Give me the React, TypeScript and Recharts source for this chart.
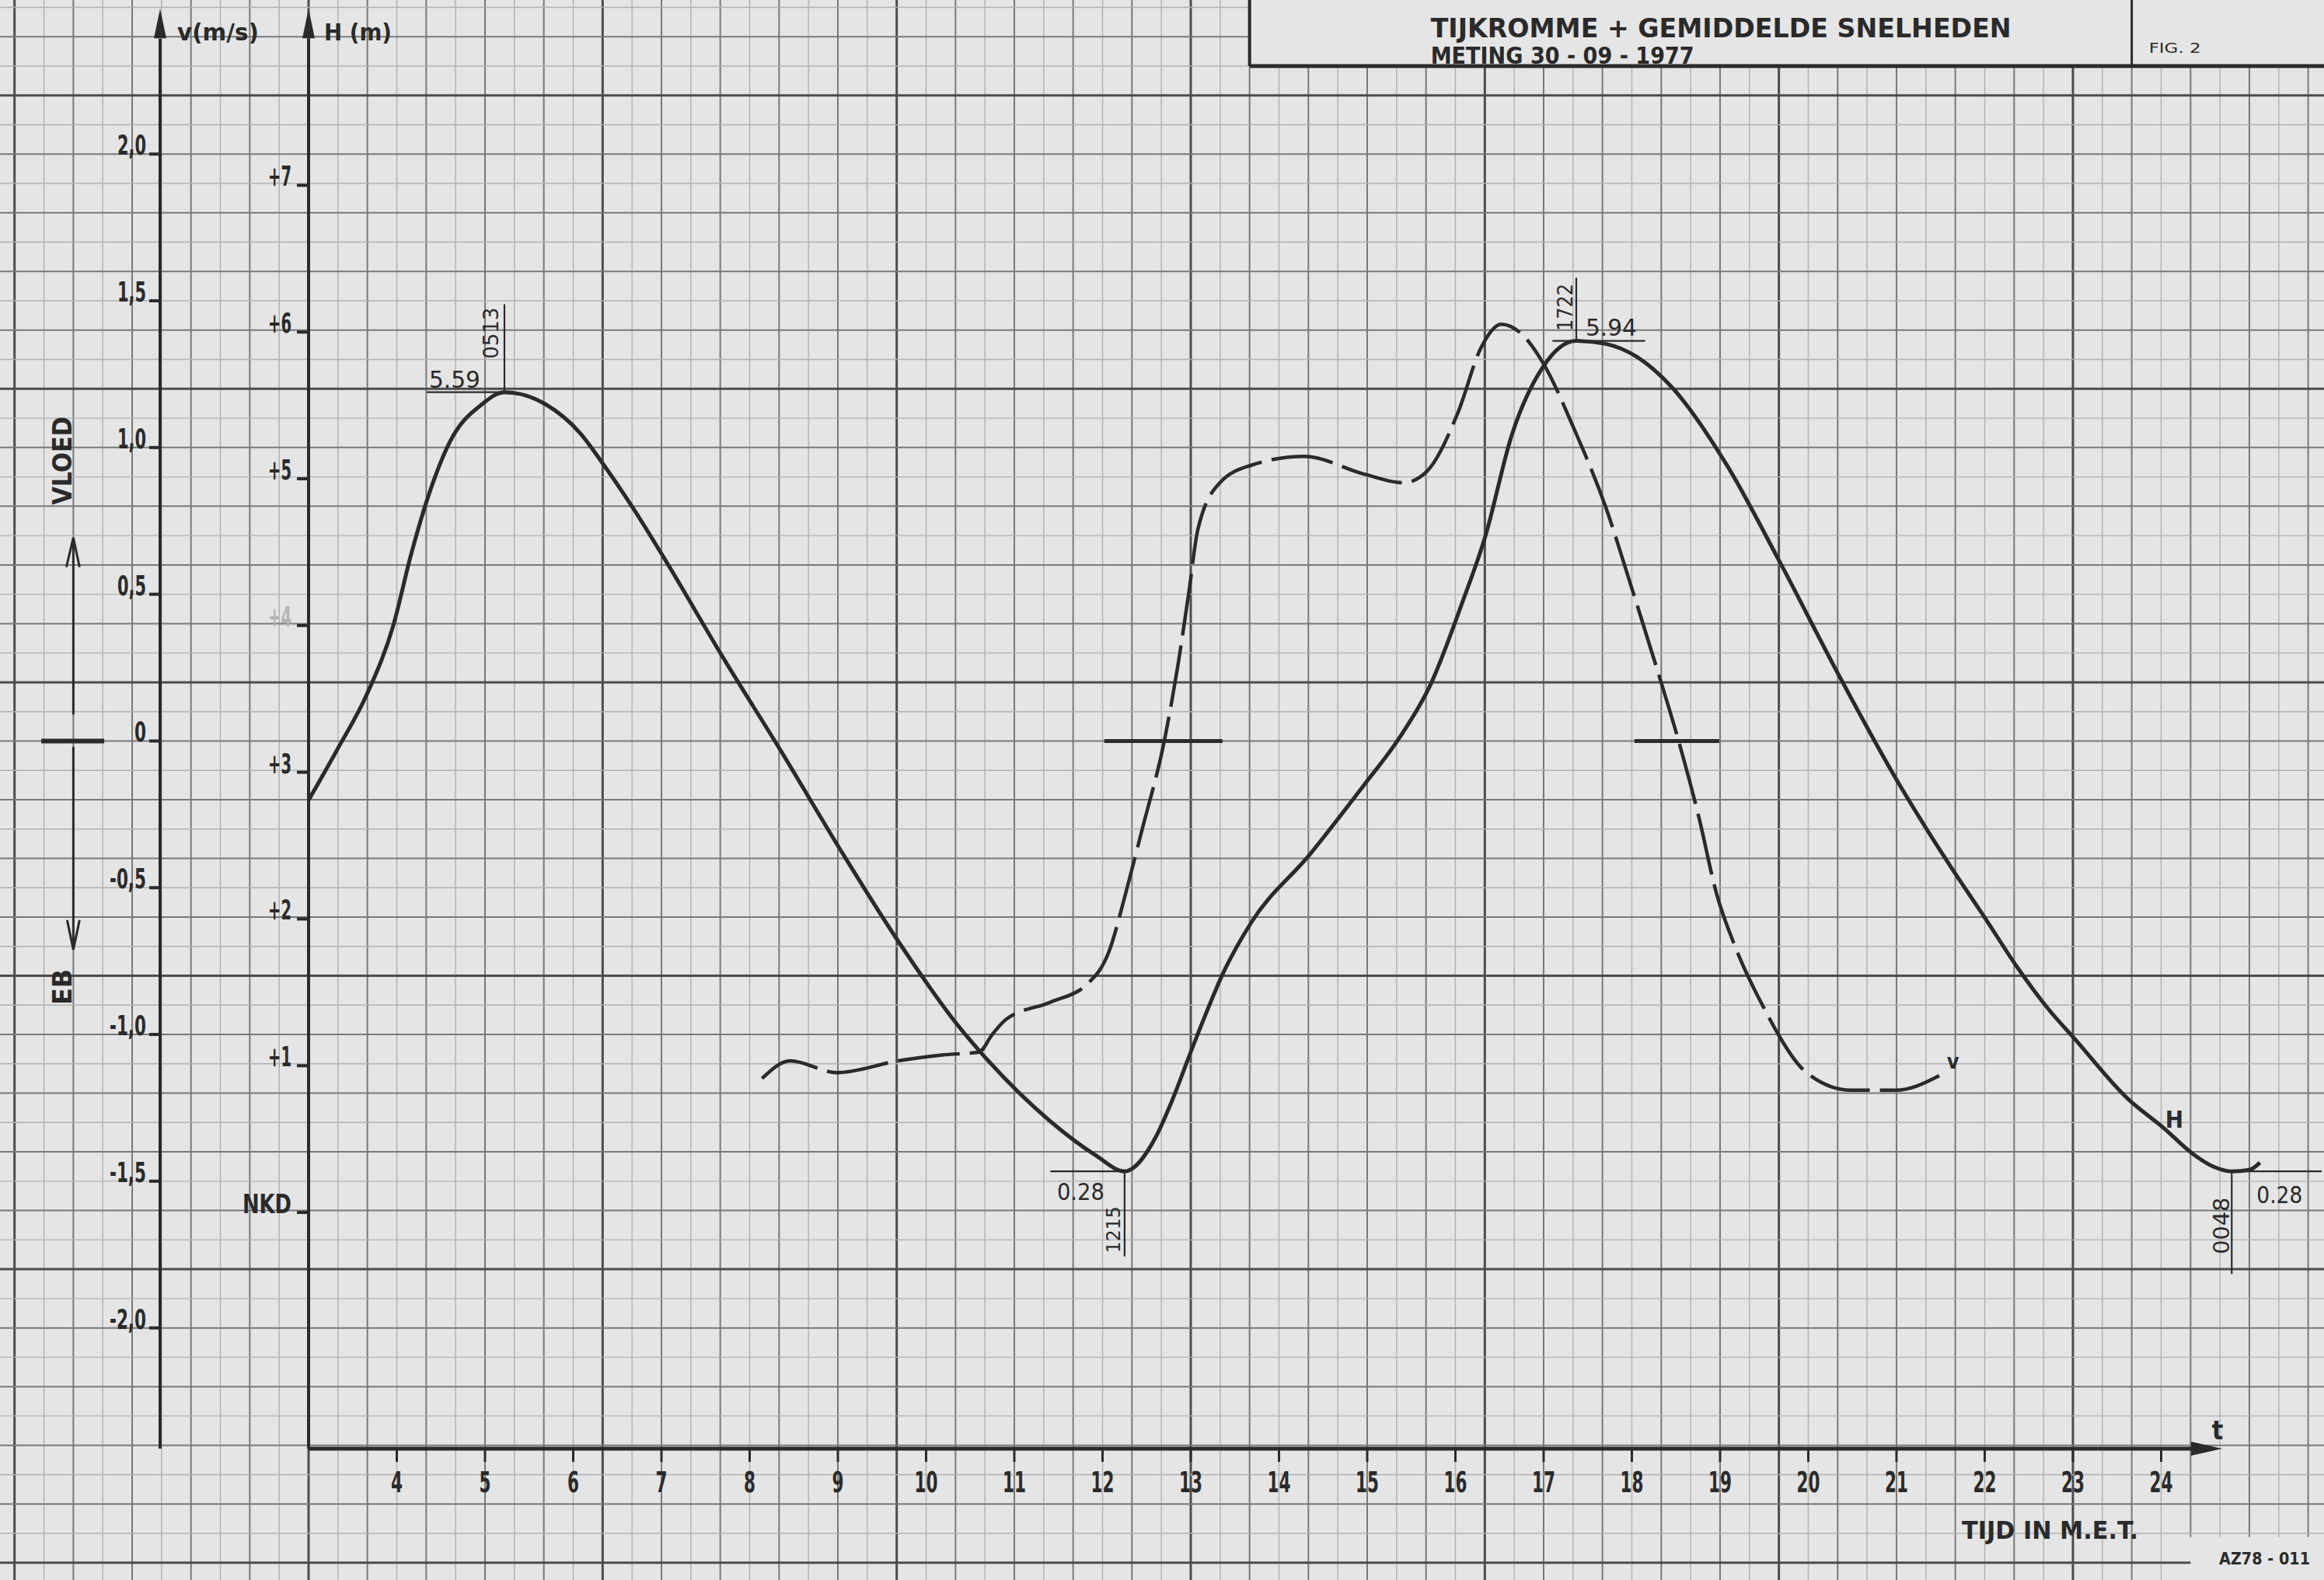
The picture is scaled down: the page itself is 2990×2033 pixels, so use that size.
import { LineChart, Line, XAxis, YAxis, ReferenceLine, ReferenceDot } from "recharts";

// tide curve H (m above NKD), hours M.E.T.
const hTimes = [3.0, 3.33, 3.66, 3.96, 4.16, 4.34, 4.6, 4.97, 5.22, 5.68, 6.08, 6.34, 6.7, 7.04, 7.7, 8.37, 9.03, 9.66, 10.38, 10.65, 11.41, 11.92, 12.25, 12.6, 12.78, 13.03, 13.39, 13.69, 14.35, 14.96, 15.36, 15.72, 16.08, 16.34, 16.64, 16.99, 17.37, 17.7, 18.06, 18.46, 19.07, 19.68, 20.33, 20.99, 21.61, 22.0, 22.37, 22.73, 23.01, 23.63, 24.02, 24.38, 24.6, 24.8, 25.0, 25.12];
const hLevels = [2.81, 3.16, 3.53, 4.0, 4.48, 4.85, 5.25, 5.51, 5.59, 5.51, 5.31, 5.1, 4.78, 4.45, 3.78, 3.13, 2.47, 1.87, 1.26, 1.07, 0.62, 0.39, 0.28, 0.51, 0.75, 1.14, 1.66, 1.98, 2.44, 2.91, 3.23, 3.6, 4.16, 4.61, 5.3, 5.76, 5.94, 5.92, 5.83, 5.62, 5.1, 4.43, 3.68, 2.96, 2.36, 2.01, 1.67, 1.38, 1.19, 0.77, 0.58, 0.39, 0.31, 0.28, 0.29, 0.34];

// mean velocity v (m/s), flood positive
const vTimes = [8.14, 8.46, 8.99, 9.68, 10.18, 10.6, 10.75, 10.9, 11.41, 11.82, 12.07, 12.27, 12.45, 12.7, 12.85, 12.98, 13.08, 13.33, 13.69, 14.29, 14.96, 15.41, 15.68, 16.03, 16.29, 16.52, 16.74, 16.99, 17.35, 17.7, 18.0, 18.26, 18.53, 18.76, 18.96, 19.17, 19.48, 19.98, 20.48, 20.99, 21.55];
const vSpeeds = [-1.15, -1.09, -1.13, -1.09, -1.07, -1.06, -1.0, -0.95, -0.89, -0.83, -0.72, -0.51, -0.3, 0.0, 0.25, 0.51, 0.72, 0.88, 0.94, 0.97, 0.91, 0.88, 0.92, 1.12, 1.34, 1.42, 1.39, 1.29, 1.06, 0.8, 0.52, 0.27, 0.0, -0.26, -0.52, -0.7, -0.9, -1.13, -1.19, -1.19, -1.13];

const hourTicks = [4, 5, 6, 7, 8, 9, 10, 11, 12, 13, 14, 15, 16, 17, 18, 19, 20, 21, 22, 23, 24];
const vTicks = [2, 1.5, 1, 0.5, 0, -0.5, -1, -1.5, -2];
const vTickLabels = ["2,0", "1,5", "1,0", "0,5", "0", "-0,5", "-1,0", "-1,5", "-2,0"];
const hTicks = [7, 6, 5, 4, 3, 2, 1, 0];
const hTickLabels = ["+7", "+6", "+5", "+4", "+3", "+2", "+1", "NKD"];

// high / low water marked on the curve
const extremeTimes = [5.22, 12.25, 17.37, 24.8];
const extremeLevels = [5.59, 0.28, 5.94, 0.28];
const extremeValueLabels = ["5.59", "0.28", "5.94", "0.28"];
const extremeClock = ["0513", "1215", "1722", "0048"];

const hData = hTimes.map((t, i) => ({ t, h: hLevels[i] }));
const vData = vTimes.map((t, i) => ({ t, v: vSpeeds[i] }));

const W = 2990;
const HT = 2033;
const FONT = "'DejaVu Sans Condensed', 'Liberation Sans Narrow', 'DejaVu Sans', sans-serif";
const INK = "#2a2a2a";
const PAPER = "#e5e5e5";

// the whole sheet is the plot area
const X_DOMAIN = [-0.498, 25.846];
const H_DOMAIN = [-2.505, 8.263];
const V_DOMAIN = [-2.859, 2.525];

const V_AXIS_T = 1.317;
const H_AXIS_T = 3;
const BASE_H = -1.61;
const AXIS_TOP_H = 8.0;
const TIP_H = 8.204;
const T_ARROW_BASE = 24.36;
const T_ARROW_TIP = 24.692;

const BOX_T = 3 + 32 / 3;
const FIG_T = 3 + 62 / 3;
const BOX_V = 2.3;
const CODE_T = 3 + 64 / 3;
const CODE_V = -2.713;
const SIDE_T = 3 - 8 / 3;

const gridCols = Array.from({ length: 79 }, (_, i) => i - 10);
const gridRows = Array.from({ length: 54 }, (_, i) => 25 - i);

const tone = (n: number): [string, number] =>
  n % 10 === 0 ? ["#4c4c4c", 3] : n % 2 === 0 ? ["#787878", 2] : ["#b0b0b0", 1.4];

// stencil-ish widths for tick numerals
const glyphW: Record<string, number> = { ",": 7, ".": 7, "-": 10, "+": 15, N: 22, K: 20, D: 21 };
const numLen = (s: string) => s.split("").reduce((a, c) => a + (glyphW[c] ?? 15), 0);

type TextOpts = {
  dx?: number;
  dy?: number;
  size?: number;
  anchor?: string;
  len?: number;
  rotate?: boolean;
  color?: string;
  bold?: boolean;
};

function label(cx: number, cy: number, text: string, o: TextOpts) {
  const x = cx + (o.dx ?? 0);
  const y = cy + (o.dy ?? 0);
  return (
    <text
      x={x}
      y={y}
      fontFamily={FONT}
      fontSize={o.size ?? 28}
      fontWeight={o.bold ? "bold" : "normal"}
      fill={o.color ?? INK}
      textAnchor={o.anchor ?? "start"}
      textLength={o.len}
      lengthAdjust={o.len ? "spacingAndGlyphs" : undefined}
      transform={o.rotate ? `rotate(-90 ${x} ${y})` : undefined}
    >
      {text}
    </text>
  );
}

const mark = (key: string, x: number, y: number, axis: string, draw: (cx: number, cy: number) => any) => (
  <ReferenceDot key={key} x={x} y={y} yAxisId={axis} r={1} ifOverflow="visible" shape={(p: any) => draw(p.cx, p.cy)} />
);

const seg = (key: string, x1: number, y1: number, x2: number, y2: number, axis: string, stroke: string, width: number) => (
  <ReferenceLine
    key={key}
    yAxisId={axis}
    segment={[{ x: x1, y: y1 }, { x: x2, y: y2 }]}
    stroke={stroke}
    strokeWidth={width}
    ifOverflow="visible"
  />
);

// per extreme: where its value / clock text sit relative to the point
const extremeLayout = [
  { hx: 4.34, hx2: 5.22, vy: 6.19, val: { dx: -97, dy: -6, len: 66 }, clk: { dx: -8, dy: -76, len: 66, size: 26 } },
  { hx: 11.41, hx2: 12.25, vy: -0.3, val: { dx: -87, dy: 37, len: 61 }, clk: { dx: -6, dy: 75, len: 60, size: 24 } },
  { hx: 17.1, hx2: 18.15, vy: 6.37, val: { dx: 12, dy: -7, len: 66 }, clk: { dx: -5, dy: -43, len: 61, size: 26 } },
  { hx: 24.8, hx2: 25.82, vy: -0.42, val: { dx: 32, dy: 41, len: 59 }, clk: { dx: -3, dy: 70, len: 73, size: 29 } },
];

export default function App() {
  return (
    <div style={{ position: "absolute", left: 0, top: 0, width: W, height: HT, background: PAPER }}>
      <LineChart width={W} height={HT} margin={{ top: 0, right: 0, bottom: 0, left: 0 }}>
        <XAxis type="number" dataKey="t" domain={X_DOMAIN} hide allowDataOverflow />
        <YAxis yAxisId="h" type="number" domain={H_DOMAIN} hide allowDataOverflow />
        <YAxis yAxisId="v" type="number" domain={V_DOMAIN} hide allowDataOverflow />

        {/* graph paper */}
        {gridCols.map((k) => {
          const t = 3 + k / 3;
          const [c, w] = tone(k);
          const top = k >= 32 ? BOX_V : V_DOMAIN[1];
          const bottom = k >= 64 ? CODE_V : V_DOMAIN[0];
          return seg(`gc${k}`, t, bottom, t, top, "v", c, w);
        })}
        {gridRows.map((r) => {
          const v = r / 10;
          const [c, w] = tone(r - 22);
          const right = r >= 23 ? BOX_T : r <= -28 ? CODE_T : X_DOMAIN[1];
          return seg(`gr${r}`, X_DOMAIN[0], v, right, v, "v", c, w);
        })}

        {/* title block */}
        {seg("boxL", BOX_T, BOX_V, BOX_T, V_DOMAIN[1], "v", INK, 4)}
        {seg("boxB", BOX_T, BOX_V, X_DOMAIN[1], BOX_V, "v", INK, 5)}
        {seg("boxD", FIG_T, BOX_V, FIG_T, V_DOMAIN[1], "v", INK, 3)}
        {mark("title", BOX_T, BOX_V, "v", (cx, cy) => (
          <g>
            {label(cx, cy, "TIJKROMME + GEMIDDELDE SNELHEDEN", { dx: 233, dy: -37, size: 33, len: 747, bold: true })}
            {label(cx, cy, "METING 30 - 09 - 1977", { dx: 233, dy: -3, size: 30, len: 339, bold: true })}
          </g>
        ))}
        {mark("fig", FIG_T, BOX_V, "v", (cx, cy) => label(cx, cy, "FIG. 2", { dx: 22, dy: -17, size: 18, len: 67 }))}

        {/* axes */}
        {seg("vAxis", V_AXIS_T, BASE_H, V_AXIS_T, AXIS_TOP_H, "h", INK, 4)}
        {seg("hAxis", H_AXIS_T, BASE_H, H_AXIS_T, AXIS_TOP_H, "h", INK, 4)}
        {seg("tAxis", H_AXIS_T, BASE_H, T_ARROW_BASE, BASE_H, "h", INK, 5)}
        {mark("vArrow", V_AXIS_T, TIP_H, "h", (cx, cy) => (
          <g>
            <path d={`M${cx},${cy} L${cx - 8},${cy + 38} L${cx + 8},${cy + 38} Z`} fill={INK} />
            {label(cx, cy, "v(m/s)", { dx: 22, dy: 41, size: 31, len: 105, bold: true })}
          </g>
        ))}
        {mark("hArrow", H_AXIS_T, TIP_H, "h", (cx, cy) => (
          <g>
            <path d={`M${cx},${cy} L${cx - 8},${cy + 38} L${cx + 8},${cy + 38} Z`} fill={INK} />
            {label(cx, cy, "H (m)", { dx: 20, dy: 41, size: 31, len: 87, bold: true })}
          </g>
        ))}
        {mark("tArrow", T_ARROW_TIP, BASE_H, "h", (cx, cy) => (
          <g>
            <path d={`M${cx},${cy} L${cx - 40},${cy - 9} L${cx - 40},${cy + 9} Z`} fill={INK} />
            {label(cx, cy, "t", { dx: -6, dy: -12, size: 34, anchor: "middle", bold: true })}
            {label(cx, cy, "TIJD IN M.E.T.", { dx: -335, dy: 116, size: 32, len: 227, bold: true })}
            {label(cx, cy, "AZ78 - 011", { dx: -4, dy: 149, size: 21, len: 117, bold: true })}
          </g>
        ))}

        {vTicks.map((v, i) =>
          mark(`vt${i}`, V_AXIS_T, v, "v", (cx, cy) => (
            <g>
              <line x1={cx - 14} y1={cy} x2={cx} y2={cy} stroke={INK} strokeWidth={4} />
              {label(cx, cy, vTickLabels[i], { dx: -18, dy: 1, size: 35, anchor: "end", len: numLen(vTickLabels[i]), bold: true })}
            </g>
          ))
        )}
        {hTicks.map((h, i) =>
          mark(`ht${i}`, H_AXIS_T, h, "h", (cx, cy) => (
            <g>
              <line x1={cx - 15} y1={cy} x2={cx} y2={cy} stroke={INK} strokeWidth={4} />
              {label(cx, cy, hTickLabels[i], {
                dx: -22,
                dy: 1,
                size: h === 0 ? 33 : 35,
                anchor: "end",
                len: numLen(hTickLabels[i]),
                bold: true,
                color: h === 4 ? "#b4b4b4" : INK,
              })}
            </g>
          ))
        )}
        {hourTicks.map((t) =>
          mark(`xt${t}`, t, BASE_H, "h", (cx, cy) => (
            <g>
              <line x1={cx} y1={cy} x2={cx} y2={cy + 17} stroke={INK} strokeWidth={3} />
              {label(cx, cy, String(t), { dy: 56, size: 37, anchor: "middle", len: numLen(String(t)), bold: true })}
            </g>
          ))
        )}

        {/* flood / ebb indicator */}
        {seg("zeroL", -0.03, 0, 0.683, 0, "v", INK, 6)}
        {seg("floodShaft", SIDE_T, 0.09, SIDE_T, 0.693, "v", INK, 3)}
        {seg("ebbShaft", SIDE_T, -0.02, SIDE_T, -0.711, "v", INK, 3)}
        {mark("flood", SIDE_T, 0.693, "v", (cx, cy) => (
          <g>
            <path d={`M${cx - 9},${cy + 38} L${cx},${cy} L${cx + 8},${cy + 38}`} fill="none" stroke={INK} strokeWidth={3} />
            {label(cx, cy, "VLOED", { dx: -2, dy: -99, size: 34, anchor: "middle", len: 114, rotate: true, bold: true })}
          </g>
        ))}
        {mark("ebb", SIDE_T, -0.711, "v", (cx, cy) => (
          <g>
            <path d={`M${cx - 8},${cy - 38} L${cx},${cy} L${cx + 8},${cy - 38}`} fill="none" stroke={INK} strokeWidth={3} />
            {label(cx, cy, "EB", { dx: -2, dy: 48, size: 34, anchor: "middle", len: 46, rotate: true, bold: true })}
          </g>
        ))}

        {/* slack water markers */}
        {seg("zero1", 12.02, 0, 13.36, 0, "v", INK, 5)}
        {seg("zero2", 18.03, 0, 18.99, 0, "v", INK, 5)}

        <Line
          data={hData}
          dataKey="h"
          yAxisId="h"
          type="monotone"
          stroke={INK}
          strokeWidth={5}
          dot={false}
          activeDot={false}
          isAnimationActive={false}
        />
        <Line
          data={vData}
          dataKey="v"
          yAxisId="v"
          type="monotone"
          stroke={INK}
          strokeWidth={4.5}
          strokeDasharray="80 13"
          dot={false}
          activeDot={false}
          isAnimationActive={false}
        />

        {/* extremes */}
        {extremeTimes.map((t, i) => {
          const lay = extremeLayout[i];
          const h = extremeLevels[i];
          return [
            seg(`exH${i}`, lay.hx, h, lay.hx2, h, "h", INK, 2.2),
            seg(`exV${i}`, t, h, t, lay.vy, "h", INK, 2.2),
            mark(`exT${i}`, t, h, "h", (cx, cy) => (
              <g>
                {label(cx, cy, extremeValueLabels[i], { dx: lay.val.dx, dy: lay.val.dy, size: 31, len: lay.val.len })}
                {label(cx, cy, extremeClock[i], {
                  dx: lay.clk.dx,
                  dy: lay.clk.dy,
                  size: lay.clk.size,
                  anchor: "middle",
                  len: lay.clk.len,
                  rotate: true,
                })}
              </g>
            )),
          ];
        })}

        {mark("hName", 24.15, 0.58, "h", (cx, cy) => label(cx, cy, "H", { size: 31, anchor: "middle", bold: true }))}
        {mark("vName", 21.64, -1.116, "v", (cx, cy) => label(cx, cy, "v", { size: 27, anchor: "middle", bold: true }))}
      </LineChart>
    </div>
  );
}
